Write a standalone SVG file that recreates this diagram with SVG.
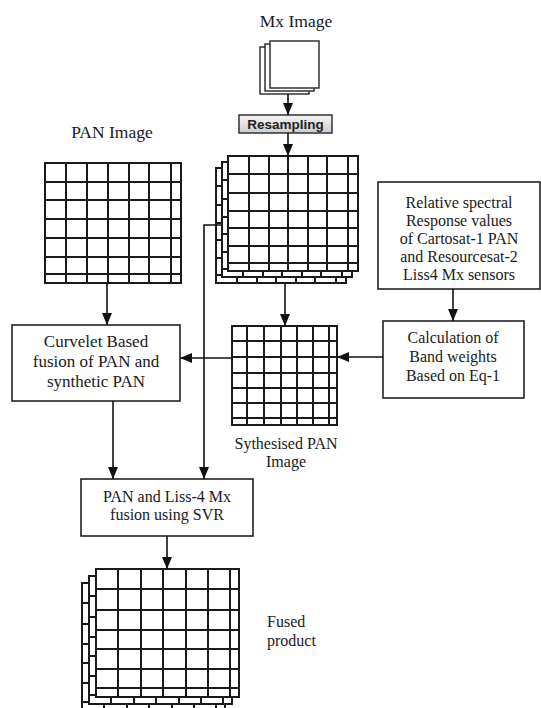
<svg xmlns="http://www.w3.org/2000/svg" xmlns:xlink="http://www.w3.org/1999/xlink" width="541" height="708" viewBox="0 0 541 708">
<style>
.t{font-family:"Liberation Serif","Times New Roman",serif;font-size:17.5px;fill:#1a1a1a}
.m{font-size:16px}
.c{text-anchor:middle}
.box{fill:#fff;stroke:#222;stroke-width:1.6}
.grid{fill:#fff;stroke:#1a1a1a;stroke-width:2}
.gl{fill:none;stroke:#1a1a1a;stroke-width:2}
.sq{fill:#fff;stroke:#333;stroke-width:1.5}
.con{fill:none;stroke:#111;stroke-width:1.6;marker-end:url(#ah)}
</style>
<defs>
<marker id="ah" markerUnits="userSpaceOnUse" markerWidth="12" markerHeight="10" refX="12" refY="5" orient="auto">
<path d="M0,0 L12,5 L0,10 z" fill="#111"/>
</marker>
<linearGradient id="rg" x1="0" y1="0" x2="0" y2="1">
<stop offset="0" stop-color="#f6f6f6"/>
<stop offset="1" stop-color="#cccccc"/>
</linearGradient>
<g id="mxgrid">
<rect class="grid" x="228" y="156" width="130" height="115"/>
<path class="gl" d="M249,156V271M269,156V271M288,156V271M308,156V271M327,156V271M348,156V271M228,174H358M228,193H358M228,211H358M228,228H358M228,246H358M228,263H358"/>
</g>
<g id="fgrid">
<rect class="grid" x="96" y="569" width="143" height="128"/>
<path class="gl" d="M118,569V697M141,569V697M163,569V697M186,569V697M208,569V697M230,569V697M96,589H239M96,610H239M96,630H239M96,649H239M96,669H239M96,688H239"/>
</g>
</defs>
<rect width="541" height="708" fill="#fff"/>

<g id="mx-image">
<text class="t c" x="296" y="27">Mx Image</text>
<rect class="sq" x="260" y="47" width="49" height="47"/>
<rect class="sq" x="265" y="44" width="49" height="47"/>
<rect class="sq" x="270" y="41" width="49" height="47"/>
</g>

<g id="resampling">
<rect x="239" y="115" width="93" height="18" fill="url(#rg)" stroke="#333" stroke-width="1.5"/>
<text x="285.5" y="129" text-anchor="middle" font-family="'Liberation Sans',Arial,sans-serif" font-weight="bold" font-size="13.5" fill="#222">Resampling</text>
</g>

<g id="pan-image">
<text class="t c" x="112" y="138">PAN Image</text>
<rect class="grid" x="45" y="163" width="136" height="120"/>
<path class="gl" d="M66,163V283M87,163V283M108,163V283M129,163V283M149,163V283M171,163V283M45,182H181M45,200H181M45,219H181M45,238H181M45,257H181M45,274H181"/>
</g>

<g id="resampled-mx">
<use xlink:href="#mxgrid" transform="translate(-12,12)"/>
<use xlink:href="#mxgrid" transform="translate(-6,6)"/>
<use xlink:href="#mxgrid"/>
</g>

<g id="spectral-response">
<rect class="box" x="378" y="182" width="162" height="107"/>
<text class="t m c" x="459" y="208">Relative spectral</text>
<text class="t m c" x="459" y="226">Response values</text>
<text class="t m c" x="459" y="244">of Cartosat-1 PAN</text>
<text class="t m c" x="459" y="262">and Resourcesat-2</text>
<text class="t m c" x="459" y="280">Liss4 Mx sensors</text>
</g>

<g id="band-weights">
<rect class="box" x="383" y="321" width="141" height="77"/>
<text class="t m c" x="453" y="343">Calculation of</text>
<text class="t m c" x="453" y="362">Band weights</text>
<text class="t m c" x="453" y="381">Based on Eq-1</text>
</g>

<g id="synth-pan">
<rect class="grid" x="232" y="326" width="105" height="99"/>
<path class="gl" d="M247,326V425M264,326V425M281,326V425M297,326V425M313,326V425M329,326V425M232,341H337M232,357H337M232,373H337M232,388H337M232,403H337M232,418H337"/>
<text class="t m c" x="286" y="449">Sythesised PAN</text>
<text class="t m c" x="286" y="467">Image</text>
</g>

<g id="curvelet">
<rect class="box" x="12" y="325" width="168" height="76"/>
<text class="t c" x="96" y="347" style="font-size:17px">Curvelet Based</text>
<text class="t c" x="96" y="367" style="font-size:17px">fusion of PAN and</text>
<text class="t c" x="96" y="387" style="font-size:17px">synthetic PAN</text>
</g>

<g id="svr-fusion">
<rect class="box" x="81" y="479" width="172" height="57"/>
<text class="t m c" x="167" y="502">PAN and Liss-4 Mx</text>
<text class="t m c" x="167" y="520">fusion using SVR</text>
</g>

<g id="fused-product">
<use xlink:href="#fgrid" transform="translate(-14,14)"/>
<use xlink:href="#fgrid" transform="translate(-7,7)"/>
<use xlink:href="#fgrid"/>
<text class="t m" x="267" y="627">Fused</text>
<text class="t m" x="267" y="646">product</text>
</g>

<g id="connectors">
<path class="con" d="M288,94V115"/>
<path class="con" d="M288,133V156"/>
<path class="con" d="M107,283V325"/>
<path class="con" d="M285,283V326"/>
<path class="con" d="M222,225H204V479"/>
<path class="con" d="M113,401V479"/>
<path class="con" d="M453,289V321"/>
<path class="con" d="M383,357H337"/>
<path class="con" d="M232,358H180"/>
<path class="con" d="M167,536V569"/>
</g>
</svg>
